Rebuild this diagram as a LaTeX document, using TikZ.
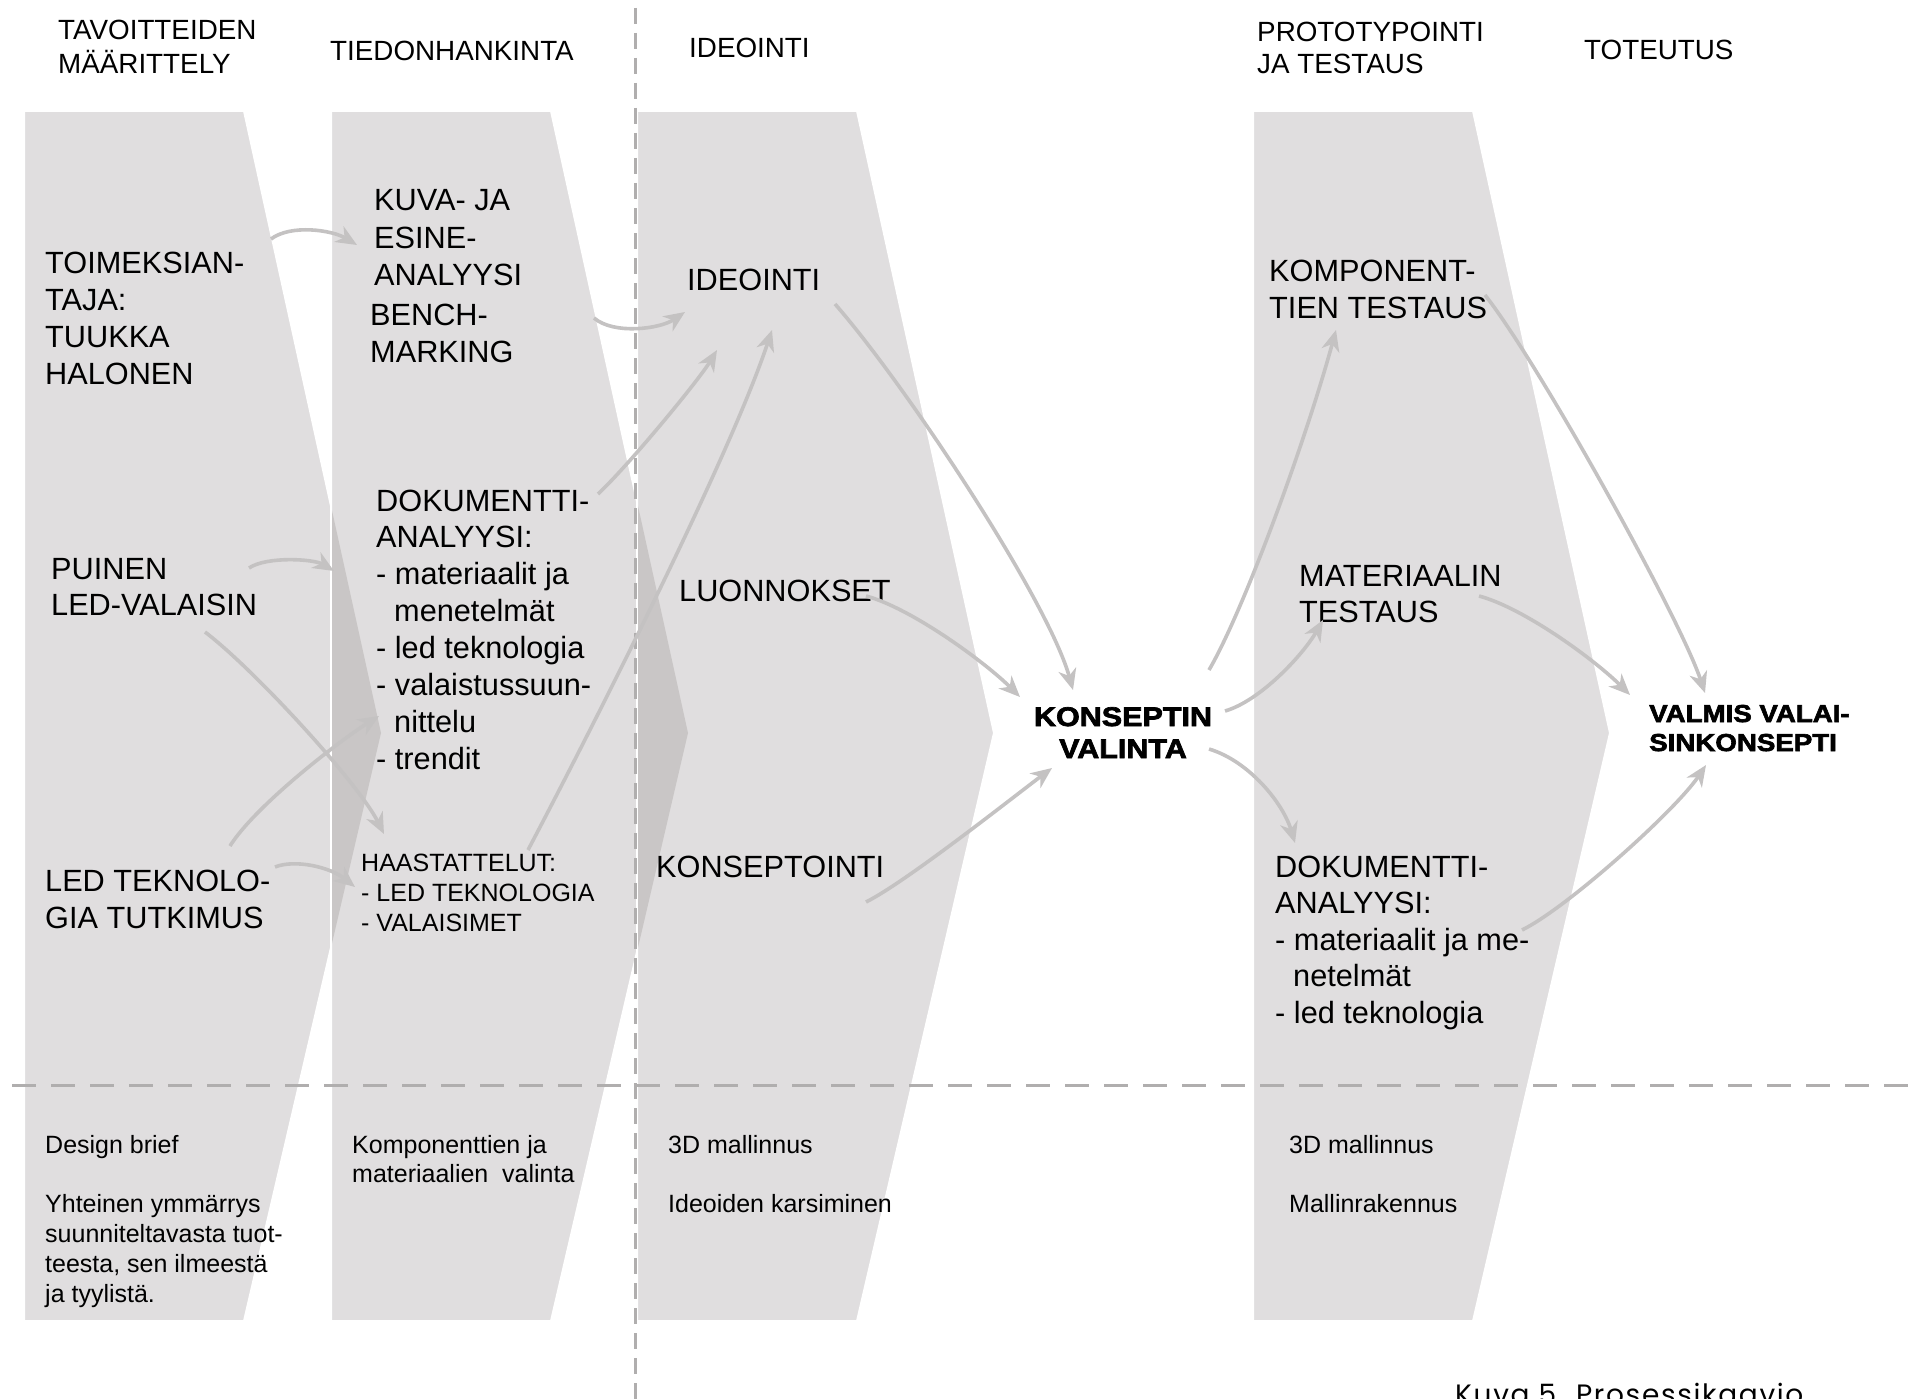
\documentclass[tikz,border=0pt]{standalone}
\usepackage{fontspec}
\setmainfont{Liberation Sans}
\newfontfamily\heavy[FakeStretch=1.13,FakeBold=2.6]{Liberation Sans}
\newfontfamily\capfont[LetterSpace=6]{Poppins}
\usetikzlibrary{arrows.meta}
\definecolor{chev}{RGB}{224,222,223}
\definecolor{wedgec}{RGB}{201,198,198}
\definecolor{arrc}{RGB}{196,194,194}
\definecolor{dashc}{RGB}{176,174,174}
\newcommand\mlines[2]{\vtop{\baselineskip=#1pt\lineskiplimit=-1000pt\lineskip=0pt\halign{##\hfil\cr#2\crcr}}}
\newcommand\clines[2]{\vtop{\baselineskip=#1pt\lineskiplimit=-1000pt\lineskip=0pt\halign{\hfil##\hfil\cr#2\crcr}}}
\tikzset{
  chevshape/.style={fill=chev, draw=white, line width=2pt},
  conn/.style={draw=arrc, line width=3.6pt, -{Stealth[length=21pt,width=18pt,inset=6.5pt]}},
  hdr/.style={anchor=base west, inner sep=0pt, font=\fontsize{27.8}{34}\selectfont},
  body/.style={anchor=base west, inner sep=0pt, font=\fontsize{30.7}{37}\selectfont},
  small/.style={anchor=base west, inner sep=0pt, font=\fontsize{25}{30}\selectfont},
  heavytxt/.style={inner sep=0pt, font=\heavy\bfseries\fontsize{27}{32}\selectfont},
}
\begin{document}
\begin{tikzpicture}[x=1pt,y=-1pt]
\useasboundingbox (0,0) rectangle (1910,1399);
\clip (0,0) rectangle (1910,1399);
\fill[white] (0,0) rectangle (1910,1399);

% chevrons
\filldraw[chevshape] (24,111) -- (244,111) -- (381,733) -- (244,1321) -- (24,1321) -- cycle;
\filldraw[chevshape] (331,111) -- (551,111) -- (688,733) -- (551,1321) -- (331,1321) -- cycle;
\filldraw[chevshape] (637,111) -- (857,111) -- (994,733) -- (857,1321) -- (637,1321) -- cycle;
\filldraw[chevshape] (1253,111) -- (1473,111) -- (1610,733) -- (1473,1321) -- (1253,1321) -- cycle;
% overlaps
\begin{scope}
  \clip (331,111) -- (551,111) -- (688,733) -- (551,1321) -- (331,1321) -- cycle;
  \fill[wedgec] (24,111) -- (244,111) -- (381,733) -- (244,1321) -- (24,1321) -- cycle;
\end{scope}
\begin{scope}
  \clip (637,111) -- (857,111) -- (994,733) -- (857,1321) -- (637,1321) -- cycle;
  \fill[wedgec] (331,111) -- (551,111) -- (688,733) -- (551,1321) -- (331,1321) -- cycle;
\end{scope}
\draw[white, line width=2pt] (331,111) -- (331,1321);
\draw[white, line width=2pt] (637,111) -- (637,1321);

% dashed guide lines
\draw[dashc, line width=3pt, dash pattern=on 16pt off 9pt] (635,8) -- (635,1399);
\draw[dashc, line width=3pt, dash pattern=on 24pt off 15pt] (12,1085) -- (1910,1085);

% headers
\node[hdr] (h1) at (58,40) {\mlines{34}{TAVOITTEIDEN\cr MÄÄRITTELY}};
\node[hdr] (h2) at (330,61) {TIEDONHANKINTA};
\node[hdr] (h3) at (689,58) {IDEOINTI};
\node[hdr] (h4) at (1257,42) {\mlines{32}{PROTOTYPOINTI\cr JA TESTAUS}};
\node[hdr] (h5) at (1584,60) {TOTEUTUS};

% column 1
\node[body] (toim) at (45,273) {\mlines{37}{TOIMEKSIAN-\cr TAJA:\cr TUUKKA\cr HALONEN}};
\node[body] (puin) at (51,579) {\mlines{36}{PUINEN\cr LED-VALAISIN}};
\node[body] (ledt) at (45,891) {\mlines{37}{LED TEKNOLO-\cr GIA TUTKIMUS}};
\node[small] (desb) at (45,1153) {Design brief};
\node[small] (yht) at (45,1212) {\mlines{30}{Yhteinen ymmärrys\cr suunniteltavasta tuot-\cr teesta, sen ilmeestä\cr ja tyylistä.}};

% column 2
\node[body] (kuva) at (374,211) {\mlines{37}{KUVA- JA\cr ESINE-\cr ANALYYSI}};
\node[body] (bench) at (370,325) {\mlines{37}{BENCH-\cr MARKING}};
\node[body] (dok1) at (376,511) {\mlines{36.9}{DOKUMENTTI-\cr ANALYYSI:\cr - materiaalit ja\cr \kern18pt menetelmät\cr - led teknologia\cr - valaistussuun-\cr \kern18pt nittelu\cr - trendit}};
\node[small] (haas) at (361,871) {\mlines{30}{HAASTATTELUT:\cr - LED TEKNOLOGIA\cr - VALAISIMET}};
\node[small] (komv) at (352,1153) {\mlines{29.5}{Komponenttien ja\cr materiaalien\ \ valinta}};

% column 3
\node[body] (ideo) at (687,290) {IDEOINTI};
\node[body] (luon) at (679,601) {LUONNOKSET};
\node[body] (kons) at (656,877) {KONSEPTOINTI};
\node[small] (m3da) at (668,1153) {3D mallinnus};
\node[small] (kars) at (668,1212) {Ideoiden karsiminen};

% centre
\node[heavytxt, anchor=base] (kval) at (1123,726) {\clines{32}{KONSEPTIN\cr VALINTA}};

% column 4
\node[body] (komp) at (1269,281) {\mlines{37}{KOMPONENT-\cr TIEN TESTAUS}};
\node[body] (mate) at (1299,586) {\mlines{36}{MATERIAALIN\cr TESTAUS}};
\node[body] (dok2) at (1275,877) {\mlines{36.5}{DOKUMENTTI-\cr ANALYYSI:\cr - materiaalit ja me-\cr \kern18pt netelmät\cr - led teknologia}};
\node[small] (m3db) at (1289,1153) {3D mallinnus};
\node[small] (malr) at (1289,1212) {Mallinrakennus};

% result
\node[heavytxt, anchor=base west, font=\heavy\bfseries\fontsize{24.5}{29}\selectfont] (valm) at (1649,722) {\mlines{29}{VALMIS VALAI-\cr SINKONSEPTI}};

% caption
\node[anchor=base west, inner sep=0pt, font=\capfont\fontsize{28}{30}\selectfont] (cap) at (1455,1404) {Kuva 5. Prosessikaavio};

% connector end points
\coordinate (a1s) at (271,239);  \coordinate (a1e) at (357,245);
\coordinate (a2s) at (594,318);  \coordinate (a2e) at (685,312);
\coordinate (a3s) at (598,494);  \coordinate (a3e) at (717,350);
\coordinate (a4s) at (528,850);  \coordinate (a4e) at (772,330);
\coordinate (a5s) at (249,568);  \coordinate (a5e) at (334,571);
\coordinate (a6s) at (205,632);  \coordinate (a6e) at (384,834);
\coordinate (a7s) at (230,846);  \coordinate (a7e) at (379,716);
\coordinate (a8s) at (275,867);  \coordinate (a8e) at (355,887);
\coordinate (a9s) at (835,304);  \coordinate (a9e) at (1073,690);
\coordinate (a10s) at (866,596); \coordinate (a10e) at (1020,697);
\coordinate (a11s) at (866,902); \coordinate (a11e) at (1052,768);
\coordinate (a12s) at (1209,670); \coordinate (a12e) at (1336,330);
\coordinate (a13s) at (1225,711); \coordinate (a13e) at (1323,620);
\coordinate (a14s) at (1209,749); \coordinate (a14e) at (1295,843);
\coordinate (a15s) at (1485,295); \coordinate (a15e) at (1705,693);
\coordinate (a16s) at (1479,596); \coordinate (a16e) at (1630,695);
\coordinate (a17s) at (1522,930); \coordinate (a17e) at (1706,765);

% connectors
\draw[conn] (a1s) .. controls +(20,-15) and +(-25,-15) .. (a1e);
\draw[conn] (a2s) .. controls +(20,17) and +(-25,17) .. (a2e);
\draw[conn] (a3s) .. controls +(30,-28) and +(-18,30) .. (a3e);
\draw[conn] (a4s) .. controls +(50,-95) and +(-45,135) .. (a4e);
\draw[conn] (a5s) .. controls +(18,-12) and +(-20,-12) .. (a5e);
\draw[conn] (a6s) .. controls +(50,38) and +(-25,-50) .. (a6e);
\draw[conn] (a7s) .. controls +(25,-40) and +(-40,25) .. (a7e);
\draw[conn] (a8s) .. controls +(20,-8) and +(-25,-20) .. (a8e);
\draw[conn] (a9s) .. controls +(70,80) and +(-25,-90) .. (a9e);
\draw[conn] (a10s) .. controls +(45,12) and +(-35,-35) .. (a10e);
\draw[conn] (a11s) .. controls +(40,-20) and +(-40,30) .. (a11e);
\draw[conn] (a12s) .. controls +(35,-60) and +(-30,110) .. (a12e);
\draw[conn] (a13s) .. controls +(35,-10) and +(-20,35) .. (a13e);
\draw[conn] (a14s) .. controls +(40,12) and +(-12,-40) .. (a14e);
\draw[conn] (a15s) .. controls +(55,70) and +(-25,-75) .. (a15e);
\draw[conn] (a16s) .. controls +(45,12) and +(-35,-35) .. (a16e);
\draw[conn] (a17s) .. controls +(45,-22) and +(-30,45) .. (a17e);
\end{tikzpicture}
\end{document}
